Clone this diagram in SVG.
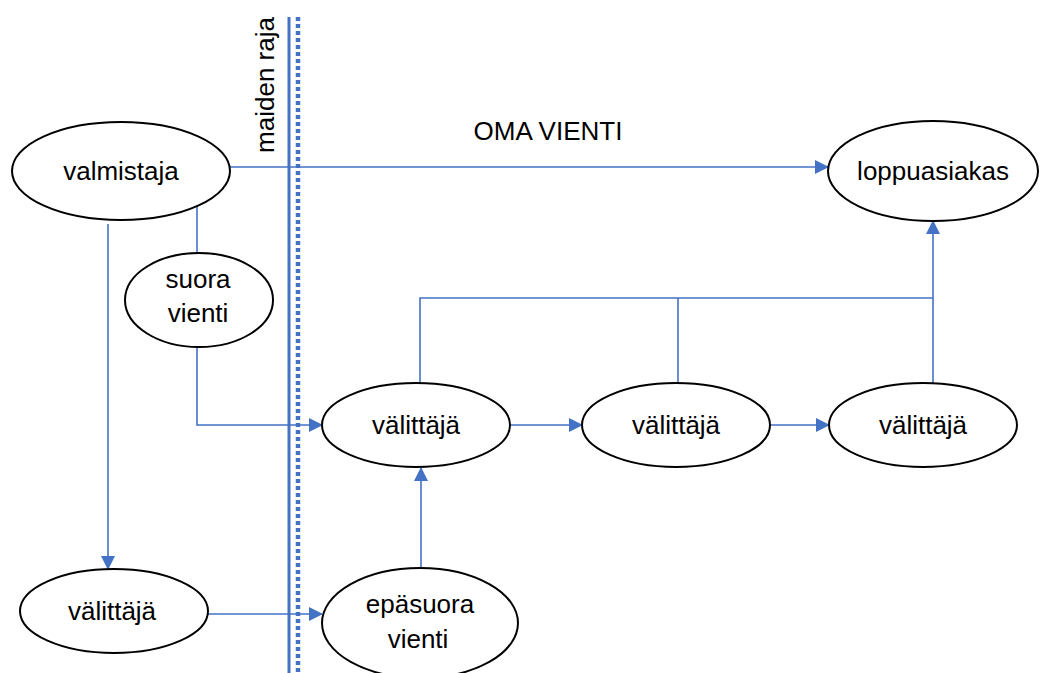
<svg xmlns="http://www.w3.org/2000/svg" width="1043" height="673" viewBox="0 0 1043 673">
<style>
.node ellipse{fill:#fff;stroke:#000;stroke-width:2}
.node text,.lbl{font-family:"Liberation Sans",Arial,sans-serif;font-size:26px;fill:#000;text-anchor:middle}
.conn{fill:none;stroke:#4472c4;stroke-width:1.6}
</style>
<defs>
<marker id="arr" markerUnits="userSpaceOnUse" markerWidth="14" markerHeight="14" refX="13" refY="7" orient="auto">
<path d="M0,0 L14,7 L0,14 Z" fill="#4472c4"/>
</marker>
</defs>
<g id="border">
<line x1="289" y1="17" x2="289" y2="673" stroke="#4472c4" stroke-width="3"/>
<line x1="298" y1="17" x2="298" y2="673" stroke="#4472c4" stroke-width="4.5" stroke-dasharray="4 3"/>
<text class="lbl" transform="translate(274,85) rotate(-90)">maiden raja</text>
</g>
<text class="lbl" x="548" y="140">OMA VIENTI</text>
<g id="connectors">
<path class="conn" d="M230,167 H828" marker-end="url(#arr)"/>
<path class="conn" d="M197,205 V253"/>
<path class="conn" d="M197,348 V425 H322" marker-end="url(#arr)"/>
<path class="conn" d="M108,224 V569" marker-end="url(#arr)"/>
<path class="conn" d="M208,614 H322" marker-end="url(#arr)"/>
<path class="conn" d="M421,569 V468" marker-end="url(#arr)"/>
<path class="conn" d="M511,425 H582" marker-end="url(#arr)"/>
<path class="conn" d="M770,425 H829" marker-end="url(#arr)"/>
<path class="conn" d="M420,382 V298 H933"/>
<path class="conn" d="M678,383 V298"/>
<path class="conn" d="M933,383 V221" marker-end="url(#arr)"/>
</g>
<g id="valmistaja" class="node"><ellipse cx="121" cy="171" rx="109" ry="49"/><text x="121" y="180">valmistaja</text></g>
<g id="loppuasiakas" class="node"><ellipse cx="933" cy="171" rx="105" ry="50"/><text x="933" y="180">loppuasiakas</text></g>
<g id="suora" class="node"><ellipse cx="199" cy="300" rx="74" ry="47"/><text x="198" y="288">suora</text><text x="198" y="322">vienti</text></g>
<g id="valittaja1" class="node"><ellipse cx="416" cy="425" rx="94" ry="42"/><text x="416" y="434">välittäjä</text></g>
<g id="valittaja2" class="node"><ellipse cx="676" cy="425" rx="94" ry="42"/><text x="676" y="434">välittäjä</text></g>
<g id="valittaja3" class="node"><ellipse cx="923" cy="425" rx="94" ry="42"/><text x="923" y="434">välittäjä</text></g>
<g id="valittaja0" class="node"><ellipse cx="114" cy="611" rx="94" ry="42"/><text x="112" y="620">välittäjä</text></g>
<g id="epasuora" class="node"><ellipse cx="420" cy="623" rx="98" ry="55"/><text x="420" y="613">epäsuora</text><text x="418" y="648">vienti</text></g>
</svg>
